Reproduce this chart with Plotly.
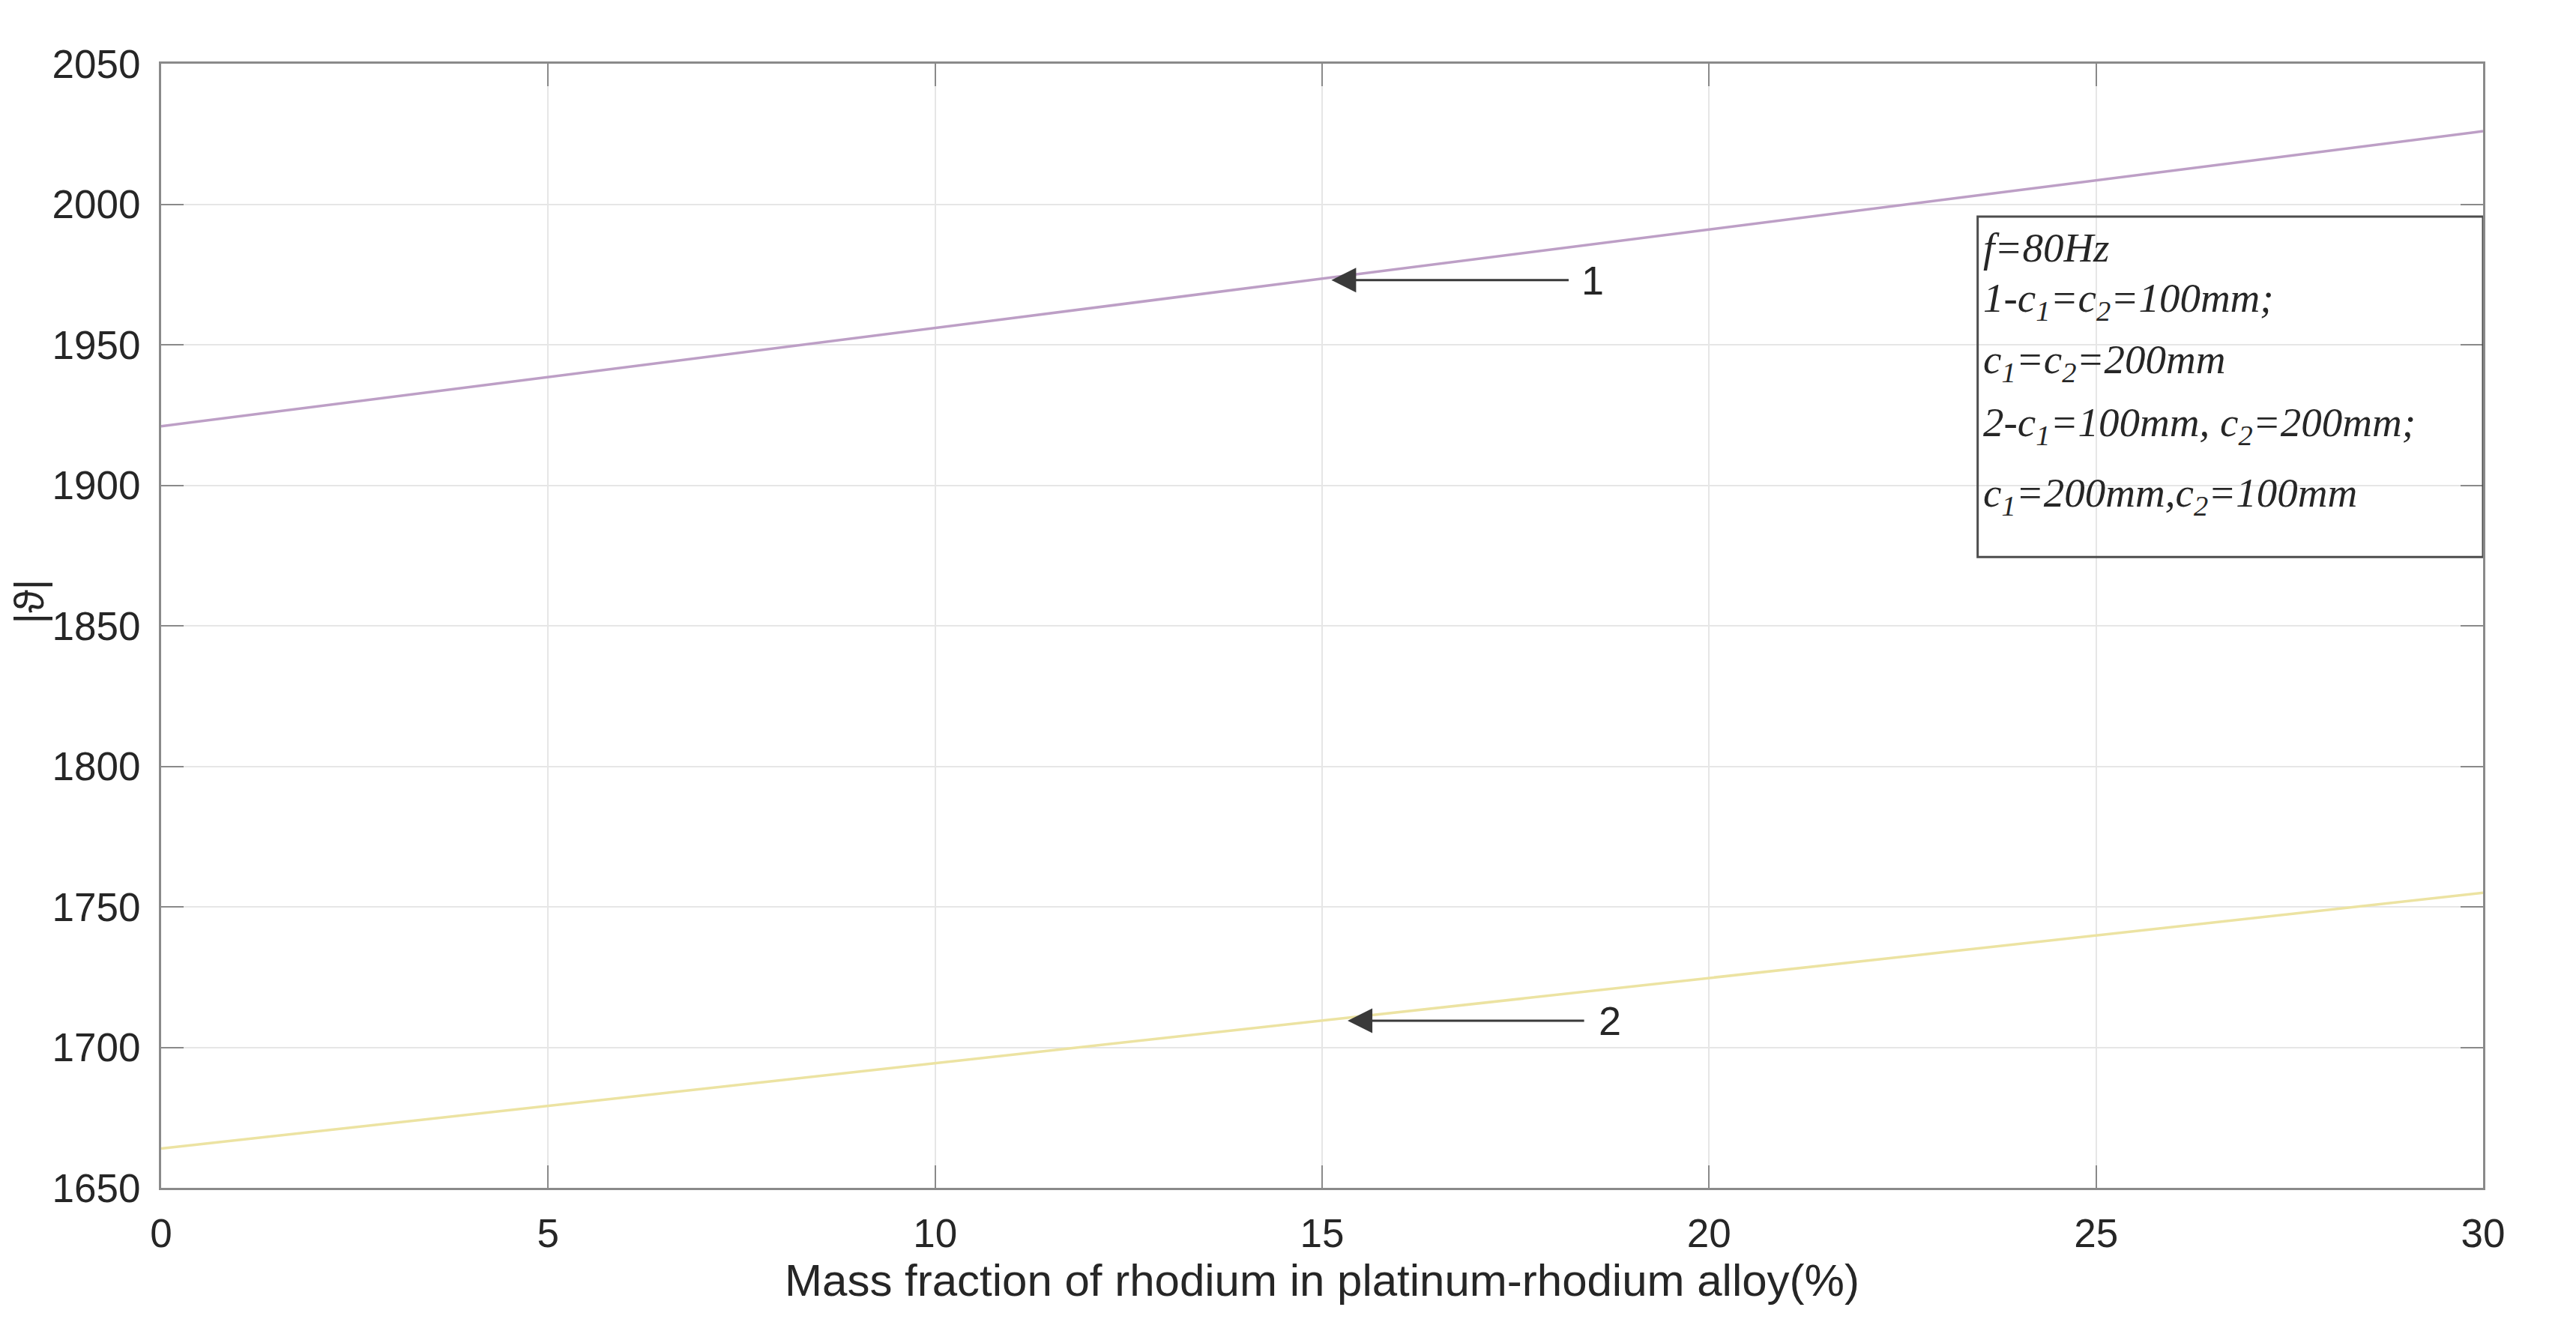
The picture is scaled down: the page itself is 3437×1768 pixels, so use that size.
import plotly.graph_objects as go

# Data
x_vals = [0, 5, 10, 15, 20, 25, 30]
curve1 = [1921, 1938.5, 1956, 1973.5, 1991, 2008.5, 2026]
curve2 = [1664, 1679.2, 1694.3, 1709.5, 1724.7, 1739.8, 1755]

x_ticks = [0, 5, 10, 15, 20, 25, 30]
y_ticks = [1650, 1700, 1750, 1800, 1850, 1900, 1950, 2000, 2050]

legend_lines = [
    "f=80Hz",
    "1-c<sub>1</sub>=c<sub>2</sub>=100mm;",
    "c<sub>1</sub>=c<sub>2</sub>=200mm",
    "2-c<sub>1</sub>=100mm, c<sub>2</sub>=200mm;",
    "c<sub>1</sub>=200mm,c<sub>2</sub>=100mm",
]
legend_y = [2018, 1998, 1976, 1953.5, 1928.5]

arrow_labels = ["1", "2"]
arrow_head_x = [15.12, 15.33]
arrow_head_y = [1973, 1709.5]
arrow_tail_x = [18.2, 18.4]
label_x = [18.5, 18.72]

fig = go.Figure()
fig.add_trace(go.Scatter(x=x_vals, y=curve1, mode="lines",
                         line=dict(color="#bd9fc6", width=3.5), showlegend=False))
fig.add_trace(go.Scatter(x=x_vals, y=curve2, mode="lines",
                         line=dict(color="#ece3a2", width=3.5), showlegend=False))

for i in range(2):
    fig.add_annotation(x=arrow_head_x[i], y=arrow_head_y[i],
                       ax=arrow_tail_x[i], ay=arrow_head_y[i],
                       xref="x", yref="y", axref="x", ayref="y",
                       text="", showarrow=True, arrowhead=2, arrowsize=2.2,
                       arrowwidth=3, arrowcolor="#3a3a3a")
    fig.add_annotation(x=label_x[i], y=arrow_head_y[i], xref="x", yref="y",
                       text=arrow_labels[i], showarrow=False,
                       font=dict(family="Liberation Sans, Arial", size=54, color="#262626"))

# legend box
fig.add_shape(type="rect", xref="x", yref="y", x0=23.47, x1=30, y0=1874.5, y1=1995.6,
              line=dict(color="#4d4d4d", width=3), fillcolor="rgba(0,0,0,0)")
for t, yy in zip(legend_lines, legend_y):
    fig.add_annotation(x=23.52, y=yy - 42, xref="x", yref="y", text=t,
                       showarrow=False, xanchor="left", yanchor="bottom",
                       font=dict(family="Liberation Serif, Times New Roman", size=55,
                                 color="#262626", style="italic"))

# y-axis title as rotated text
fig.add_annotation(x=-0.057, y=0.522, xref="paper", yref="paper", text="|ϑ|",
                   showarrow=False, textangle=-90, xanchor="center", yanchor="middle",
                   font=dict(family="Liberation Sans, Arial", size=56, color="#262626"))

axis_common = dict(showline=True, mirror="ticks", linecolor="#8a8a8a", linewidth=3,
                   ticks="inside", ticklen=30, tickwidth=2, tickcolor="#8a8a8a",
                   showgrid=True, gridcolor="#e6e6e6", gridwidth=2, zeroline=False,
                   tickfont=dict(family="Liberation Sans, Arial", size=53, color="#262626"))

fig.update_xaxes(range=[0, 30], tickvals=x_ticks, ticklabelstandoff=12,
                 title=dict(text="Mass fraction of rhodium in platinum-rhodium alloy(%)",
                            font=dict(family="Liberation Sans, Arial", size=60, color="#262626"),
                            standoff=14),
                 **axis_common)
fig.update_yaxes(range=[1650, 2050], tickvals=y_ticks, ticklabelstandoff=14,
                 **axis_common)

fig.update_layout(width=3437, height=1768, plot_bgcolor="white", paper_bgcolor="white",
                  margin=dict(l=207, r=132, t=77, b=191, autoexpand=False))

fig.write_html("out.html")
